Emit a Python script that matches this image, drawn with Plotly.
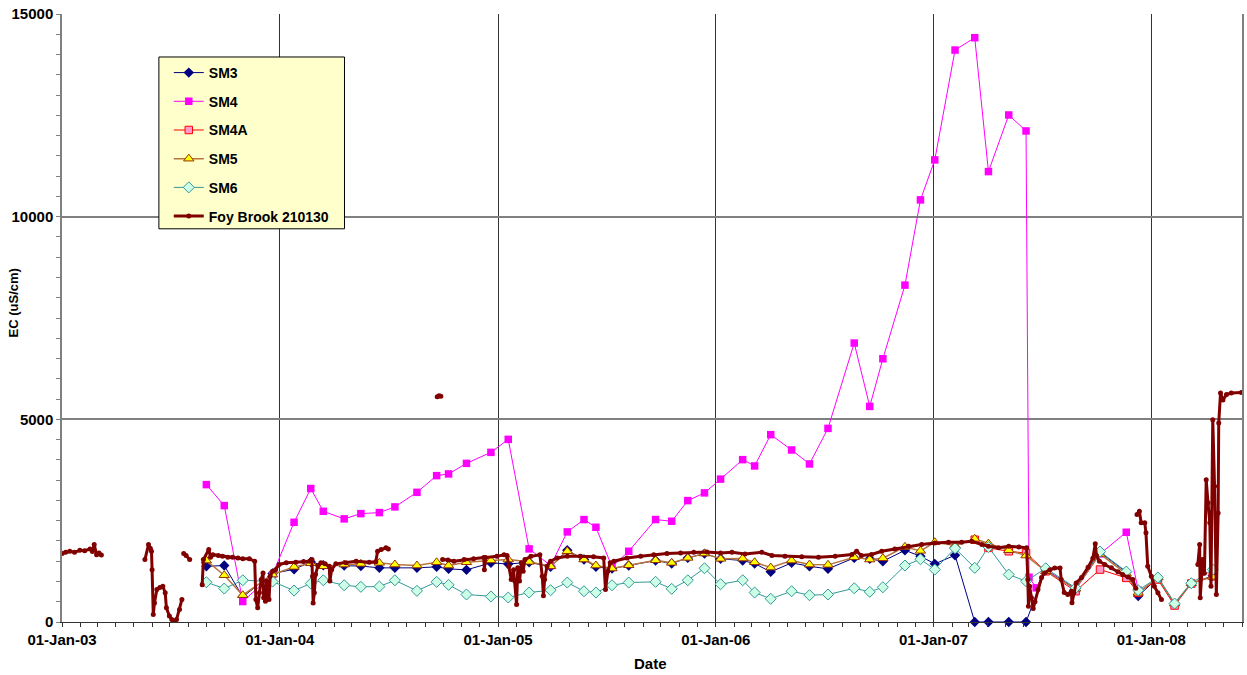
import plotly.graph_objects as go

# ---- monthly bore sampling dates (SM3, SM4A, SM5, SM6) ----
sample_dates = [
    "2003-08-31", "2003-09-30", "2003-10-31", "2003-12-20",
    "2004-01-25", "2004-02-22", "2004-03-14", "2004-04-18", "2004-05-16", "2004-06-16",
    "2004-07-12", "2004-08-18", "2004-09-20", "2004-10-10", "2004-11-09", "2004-12-20",
    "2005-01-18", "2005-02-22", "2005-03-30", "2005-04-27", "2005-05-25", "2005-06-14",
    "2005-07-11", "2005-08-08", "2005-09-22", "2005-10-19", "2005-11-15", "2005-12-13",
    "2006-01-09", "2006-02-15", "2006-03-07", "2006-04-03", "2006-05-08", "2006-06-07",
    "2006-07-08", "2006-08-21", "2006-09-16", "2006-10-08", "2006-11-14", "2006-12-10",
    "2007-01-03", "2007-02-06", "2007-03-11", "2007-04-03", "2007-05-07", "2007-06-05",
    "2007-07-08", "2007-08-27", "2007-10-07", "2007-11-20", "2007-12-10",
    "2008-01-12", "2008-02-09", "2008-03-08", "2008-04-13",
]

sm3 = [1375, 1393, 621, 1195,
       1300, 1480, 1400, 1393, 1380, 1336, 1336, 1336, 1361, 1311, 1286, 1459,
       1430, 1474, 1361, 1770, 1541, 1361, 1319, 1393, 1516, 1442, 1582, 1688,
       1560, 1516, 1442, 1237, 1459, 1375, 1311, 1582, 1558, 1499, 1770, 1622,
       1435, 1647, 0, 0, 0, 0, 1290, 820, 1720, 1230, 640,
       1090, 450, 950, 1140]

sm5 = [1516, 1154, 661, 1171,
       1360, 1450, 1375, 1417, 1435, 1459, 1417, 1393, 1474, 1393, 1474, 1520,
       1541, 1484, 1375, 1745, 1541, 1393, 1319, 1400, 1523, 1459, 1582, 1688,
       1558, 1565, 1474, 1343, 1516, 1417, 1410, 1597, 1541, 1573, 1853, 1755,
       1967, 1886, 2051, 1935, 1770, 1639, 1252, 818, 1680, 1188, 720,
       1097, 456, 957, 1114]

sm6 = [981, 826, 1030, 998,
       776, 949, 1030, 907, 868, 875, 1030, 769, 991, 917, 678, 629,
       604, 727, 784, 974, 759, 727, 907, 974, 991, 818, 1030, 1326,
       932, 1030, 727, 572, 759, 661, 678, 833, 744, 858, 1393, 1548,
       1294, 1819, 1336, 1850, 1171, 1006, 1326, 843, 1738, 1245, 784,
       1097, 456, 957, 1294]

sm4a = [None] * 42 + [2030, 1829, 1745, 1700, 1252, 760, 1294, 1089, 720,
                      1048, 407, 949, 1129]

# SM4 has two extra readings after the June 2007 drop
sm4_dates = sample_dates[:46] + ["2007-06-10", "2007-06-22"] + sample_dates[46:51]
sm4 = [3389, 2872, 505, 1170,
       2460, 3293, 2731, 2544, 2674, 2699, 2840, 3199, 3611, 3653, 3914, 4185,
       4506, 1804, 1393, 2223, 2527, 2337, 1361, 1745, 2527, 2485, 2995, 3185,
       3525, 4005, 3850, 4622, 4244, 3899, 4777, 6882, 5319, 6495, 8311, 10414,
       11400, 14111, 14415, 11112, 12509, 12115,
       1104, 843,
       1290, 800, 1681, 2214, 784]

# ---- Foy Brook gauging station 210130 (None marks a logging gap) ----
foy_dates = [
    "2003-01-01", "2003-01-07", "2003-01-14", "2003-01-22", "2003-01-31", "2003-02-08",
    "2003-02-17", "2003-02-21", "2003-02-24", "2003-02-28", "2003-03-04", "2003-03-08",
    None,
    "2003-05-20", "2003-05-26", "2003-05-29", "2003-05-31", "2003-06-01", "2003-06-03",
    "2003-06-05", "2003-06-09", "2003-06-14", "2003-06-19", "2003-06-23", "2003-06-25",
    "2003-06-30", "2003-07-04", "2003-07-07", "2003-07-12", "2003-07-17", "2003-07-21",
    None,
    "2003-07-24", "2003-07-28", "2003-08-03",
    None,
    "2003-08-24", "2003-08-26", "2003-09-04", "2003-09-07", "2003-09-11", "2003-09-20",
    "2003-09-27", "2003-10-06", "2003-10-14", "2003-10-23", "2003-10-31", "2003-11-11",
    "2003-11-20", "2003-11-22", "2003-11-25", "2003-11-28", "2003-12-01", "2003-12-04",
    "2003-12-05", "2003-12-08", "2003-12-10", "2003-12-14", "2003-12-16", "2003-12-20",
    "2003-12-25", "2003-12-31", "2004-01-12", "2004-01-28", "2004-02-10", "2004-02-20",
    "2004-02-24", "2004-02-25", "2004-02-26", "2004-02-28", "2004-03-01", "2004-03-05",
    "2004-03-10", "2004-03-17", "2004-03-24", "2004-03-25", "2004-03-28", "2004-04-04",
    "2004-04-21", "2004-05-08", "2004-05-30", "2004-06-10", "2004-06-13", "2004-06-19",
    "2004-06-27", "2004-07-01",
    None,
    "2004-09-21", "2004-09-24", "2004-09-27",
    None,
    "2004-09-30", "2004-10-09", "2004-10-19", "2004-11-05", "2004-11-21", "2004-12-08",
    "2004-12-09", "2004-12-11", "2004-12-30", "2005-01-11", "2005-01-16", "2005-01-19",
    "2005-01-23", "2005-01-27", "2005-01-29", "2005-02-01", "2005-02-03", "2005-02-06",
    "2005-02-09", "2005-02-12", "2005-02-15", "2005-02-25", "2005-03-12", "2005-03-16",
    "2005-03-18", "2005-03-20", "2005-03-24", "2005-03-30", "2005-04-10", "2005-04-27",
    "2005-05-19", "2005-06-10", "2005-06-27", "2005-06-30", "2005-07-04", "2005-07-08",
    "2005-07-14", "2005-08-05", "2005-08-28", "2005-09-19", "2005-10-11", "2005-11-03",
    "2005-11-25", "2005-12-17", "2006-01-09", "2006-01-28", "2006-02-19", "2006-03-19",
    "2006-04-05", "2006-04-27", "2006-05-25", "2006-06-22", "2006-07-20", "2006-08-17",
    "2006-08-25", "2006-09-02", "2006-09-19", "2006-10-06", "2006-10-28", "2006-11-20",
    "2006-12-12", "2007-01-03", "2007-01-26", "2007-02-17", "2007-03-06", "2007-03-23",
    "2007-04-03", "2007-04-20", "2007-05-07", "2007-05-24", "2007-06-06", "2007-06-08",
    "2007-06-09", "2007-06-11", "2007-06-14", "2007-06-17", "2007-06-20", "2007-06-25",
    "2007-07-01", "2007-07-06", "2007-07-15", "2007-07-23", "2007-08-01", "2007-08-03",
    "2007-08-08", "2007-08-14", "2007-08-20", "2007-08-21", "2007-08-24", "2007-08-28",
    "2007-09-06", "2007-09-17", "2007-09-25", "2007-09-29", "2007-10-01", "2007-10-06",
    "2007-10-15", "2007-10-26", "2007-11-06", "2007-11-14", "2007-11-23", "2007-12-01",
    "2007-12-06",
    None,
    "2007-12-08", "2007-12-12", "2007-12-15", "2007-12-21", "2007-12-23", "2007-12-26",
    "2008-01-01", "2008-01-06", "2008-01-12", "2008-01-18",
    None,
    "2008-03-19", "2008-03-22", "2008-03-23", "2008-03-27", "2008-03-30", "2008-04-02",
    "2008-04-05", "2008-04-08", "2008-04-10", "2008-04-13", "2008-04-16", "2008-04-19",
    "2008-04-22", "2008-04-23", "2008-04-26", "2008-04-30", "2008-05-06", "2008-05-14",
    "2008-05-31",
]

foy_ec = [
    1690, 1720, 1745, 1720, 1770, 1760,
    1800, 1740, 1910, 1660, 1700, 1650,
    None,
    1540, 1910, 1820, 1745, 1290, 185,
    470, 800, 850, 880, 720, 350,
    145, 60, 20, 60, 310, 555,
    None,
    1690, 1640, 1540,
    None,
    920, 1540, 1790, 1600, 1660, 1640,
    1620, 1600, 1600, 1580, 1560, 1560,
    1500, 555, 350, 720, 1050, 1210,
    600, 510, 1010, 555, 1130, 1250,
    1290, 1420, 1460, 1475, 1490, 1500,
    1540, 1130, 470, 720, 1170, 1390,
    1460, 1440, 1375, 1010, 1290, 1435,
    1460, 1500, 1475, 1485, 1745, 1790,
    1830, 1800,
    None,
    5560, 5580, 5570,
    None,
    1540, 1530, 1500, 1540, 1560, 1590,
    1290, 1590, 1620, 1660, 1640, 1375,
    1050, 1290, 1010, 430, 1340, 1010,
    1460, 1250, 1540, 1620, 1660, 1130,
    650, 1050, 1375, 1500, 1580, 1620,
    1620, 1610, 1580, 800, 1250, 1460,
    1500, 1580, 1620, 1660, 1690, 1705,
    1720, 1730, 1705, 1720, 1680, 1720,
    1640, 1620, 1610, 1600, 1620, 1665,
    1745, 1640, 1665, 1745, 1800, 1870,
    1910, 1950, 1970, 1970, 1990, 1910,
    1870, 1830, 1870, 1850, 1830, 1050,
    390, 880, 600, 330, 500, 800,
    1100, 1210, 1290, 1330, 1330, 1048,
    730, 680, 760, 473, 720, 960,
    1100, 1350, 1570, 1930, 1640, 1500,
    1420, 1340, 1240, 1170, 1110, 1048,
    830,
    None,
    2650, 2730, 2450, 2450, 2200, 1375,
    1130, 880, 720, 555,
    None,
    1420, 1910, 600, 1540, 1200, 3510,
    2940, 2450, 880, 4990, 3350, 680,
    2690, 4910, 5650, 5480, 5610, 5650,
    5665,
]

FONT = "Liberation Sans"

fig = go.Figure()

fig.add_trace(go.Scatter(
    x=sample_dates, y=sm3, name="SM3", mode="lines+markers", legendgroup="g1",
    line=dict(color="#000080", width=1),
    marker=dict(symbol="diamond", size=8, color="#000080"),
    cliponaxis=False,
))
fig.add_trace(go.Scatter(
    x=sm4_dates, y=sm4, name="SM4", mode="lines+markers", legendgroup="g2",
    line=dict(color="#FF00FF", width=1),
    marker=dict(symbol="square", size=7.5, color="#FF00FF"),
))
fig.add_trace(go.Scatter(
    x=sample_dates, y=sm4a, name="SM4A", mode="lines+markers", legendgroup="g3",
    line=dict(color="#FF0000", width=1),
    marker=dict(symbol="square", size=7.5, color="#FF99CC",
                line=dict(color="#FF0000", width=1)),
))
fig.add_trace(go.Scatter(
    x=sample_dates, y=sm5, name="SM5", mode="lines+markers", legendgroup="g4",
    line=dict(color="#B8743E", width=1.5),
    marker=dict(symbol="triangle-up", size=9, color="#FFFF00",
                line=dict(color="#993300", width=1)),
))
fig.add_trace(go.Scatter(
    x=sample_dates, y=sm6, name="SM6", mode="lines+markers", legendgroup="g5",
    line=dict(color="#339999", width=1),
    marker=dict(symbol="diamond", size=8.5, color="#CCFFE5",
                line=dict(color="#339999", width=1)),
))
fig.add_trace(go.Scatter(
    x=foy_dates, y=foy_ec, name="Foy Brook 210130", mode="lines+markers",
    legendgroup="g6", connectgaps=False,
    line=dict(color="#800000", width=3),
    marker=dict(symbol="circle", size=5, color="#800000"),
))

tick_font = dict(family=FONT, size=15, color="black", weight="bold")

fig.update_layout(
    width=1247, height=675,
    margin=dict(l=62, r=3, t=14, b=52.5),
    paper_bgcolor="white", plot_bgcolor="white",
    font=dict(family=FONT, color="black"),
    showlegend=True,
    legend=dict(
        x=0.0905, y=0.9293, xanchor="left", yanchor="top",
        bgcolor="rgba(0,0,0,0)", borderwidth=0,
        font=dict(family=FONT, size=14, color="black", weight="bold"),
        tracegroupgap=7.5,
    ),
    xaxis=dict(
        type="date", range=["2003-01-01", "2008-06-01"],
        tick0="2003-01-01", dtick="M12", tickformat="%d-%b-%y",
        ticks="outside", ticklen=4, tickcolor="#333333",
        showgrid=True, gridcolor="#333333", gridwidth=1,
        showline=True, linecolor="#333333", linewidth=1,
        zeroline=False, tickfont=tick_font,
        minor=dict(tick0="2003-01-01", dtick="M1", ticks="outside",
                   ticklen=4, tickcolor="#333333", showgrid=False),
    ),
    yaxis=dict(
        range=[0, 15000], tick0=0, dtick=5000, tickformat="d",
        ticks="outside", ticklen=4, tickcolor="#808080",
        showgrid=True, gridcolor="#808080", gridwidth=1.5,
        showline=True, linecolor="#808080", linewidth=1.5, mirror=True,
        zeroline=False, tickfont=tick_font,
        minor=dict(dtick=500, ticks="outside", ticklen=4,
                   tickcolor="#808080", showgrid=False),
    ),
    shapes=[dict(
        type="rect", xref="paper", yref="paper",
        x0=0.0821, x1=0.2394, y0=0.6467, y1=0.9293,
        fillcolor="#FFFFCC", line=dict(color="black", width=1), layer="above",
    )],
    annotations=[
        dict(text="EC (uS/cm)", xref="paper", yref="paper", x=-0.0415, y=0.524,
             xanchor="center", yanchor="middle", textangle=-90, showarrow=False,
             font=dict(family=FONT, size=13, color="black", weight="bold")),
        dict(text="Date", xref="paper", yref="paper", x=0.499, y=-0.068,
             xanchor="center", yanchor="middle", showarrow=False,
             font=dict(family=FONT, size=15, color="black", weight="bold")),
    ],
)

fig.write_html("out.html")
